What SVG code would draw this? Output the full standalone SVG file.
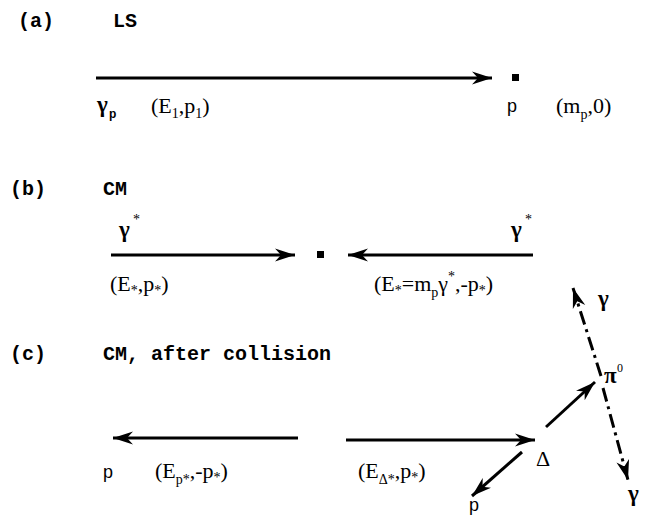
<svg xmlns="http://www.w3.org/2000/svg" width="647" height="517" viewBox="0 0 647 517">
<defs>
<style>
.mono{font-family:"Liberation Mono","Courier New",monospace;font-weight:bold;font-size:20px;fill:#000}
.tm{font-family:"Liberation Serif","Times New Roman",serif;font-size:22px;fill:#000}
.sub{font-size:14px}
.gam{font-family:"Liberation Serif","Times New Roman",serif;font-weight:bold;font-size:23px;fill:#000}
.sans{font-family:"Liberation Sans",Arial,sans-serif;font-size:18px;fill:#000}
.ln{stroke:#000;stroke-width:3;fill:none;marker-end:url(#ah)}
.dd{stroke-dasharray:14 5 3 5}
</style>
<marker id="ah" markerUnits="userSpaceOnUse" markerWidth="22" markerHeight="14" viewBox="-20 -7 22 14" refX="0" refY="0" orient="auto"><path d="M0,0 L-20,-6.5 L-14,0 L-20,6.5 Z" fill="#000"/></marker>
</defs>
<g id="connectors">
<line class="ln" x1="96" y1="78" x2="492" y2="78"/>
<line class="ln" x1="111" y1="255" x2="295" y2="255"/>
<line class="ln" x1="533" y1="255" x2="348" y2="255"/>
<line class="ln" x1="298" y1="438" x2="113" y2="438"/>
<line class="ln" x1="346" y1="440" x2="535" y2="440"/>
<line class="ln" x1="546" y1="427" x2="595" y2="382"/>
<line class="ln" x1="522" y1="452" x2="472" y2="496"/>
<line class="ln dd" x1="601" y1="376" x2="573" y2="288"/>
<line class="ln dd" x1="603" y1="388" x2="628" y2="480"/>
</g>
<g id="labels">
<text class="mono" x="18" y="27">(a)</text>
<text class="mono" x="113" y="27">LS</text>
<text class="mono" x="10" y="195">(b)</text>
<text class="mono" x="103" y="195">CM</text>
<text class="mono" x="10" y="360">(c)</text>
<text class="mono" x="103" y="360">CM, after collision</text>
</g>
<g id="node-a-photon">
<text class="gam" x="97" y="112">γ</text>
<text class="sans" x="109" y="118" style="font-size:12px;font-weight:bold">p</text>
<text class="tm" x="151" y="113">(E<tspan class="sub" dy="5">1</tspan><tspan dy="-5">,p</tspan><tspan class="sub" dy="5">1</tspan><tspan dy="-5">)</tspan></text>
</g>
<g id="node-a-proton">
<rect x="512" y="74" width="7" height="7" fill="#000"/>
<text class="sans" x="507" y="112">p</text>
<text class="tm" x="556" y="113">(m<tspan class="sub" dy="6">p</tspan><tspan dy="-6">,0)</tspan></text>
</g>
<g id="node-b-photon-left">
<text class="gam" x="119" y="237">γ</text>
<text class="tm" x="133" y="224" style="font-size:14px">*</text>
<text class="tm" x="110" y="291">(E<tspan class="sub" dy="4">*</tspan><tspan dy="-4">,p</tspan><tspan class="sub" dy="4">*</tspan><tspan dy="-4">)</tspan></text>
</g>
<g id="node-b-target">
<rect x="317" y="251" width="7" height="7" fill="#000"/>
</g>
<g id="node-b-proton-right">
<text class="gam" x="511" y="237">γ</text>
<text class="tm" x="525" y="224" style="font-size:14px">*</text>
<text class="tm" x="374" y="291">(E<tspan class="sub" dy="4">*</tspan><tspan dy="-4">=m</tspan><tspan class="sub" dy="6">p</tspan><tspan dy="-6">γ</tspan><tspan class="sub" dy="-10">*</tspan><tspan dy="10">,-p</tspan><tspan class="sub" dy="4">*</tspan><tspan dy="-4">)</tspan></text>
</g>
<g id="node-c-proton">
<text class="sans" x="103" y="478">p</text>
<text class="tm" x="155" y="478">(E<tspan class="sub" dy="6">p*</tspan><tspan dy="-6">,-p</tspan><tspan class="sub" dy="4">*</tspan><tspan dy="-4">)</tspan></text>
</g>
<g id="node-c-delta">
<text class="tm" x="358" y="478">(E<tspan class="sub" dy="6">Δ*</tspan><tspan dy="-6">,p</tspan><tspan class="sub" dy="4">*</tspan><tspan dy="-4">)</tspan></text>
<text class="tm" x="536" y="466">Δ</text>
</g>
<g id="node-c-pion">
<text class="gam" x="604" y="383">π</text>
<text class="tm" x="617" y="372" style="font-size:12px">0</text>
</g>
<g id="node-c-gamma-up">
<text class="gam" x="598" y="306">γ</text>
</g>
<g id="node-c-gamma-down">
<text class="gam" x="628" y="501">γ</text>
</g>
<g id="node-c-p-out">
<text class="sans" x="469" y="511">p</text>
</g>
</svg>
